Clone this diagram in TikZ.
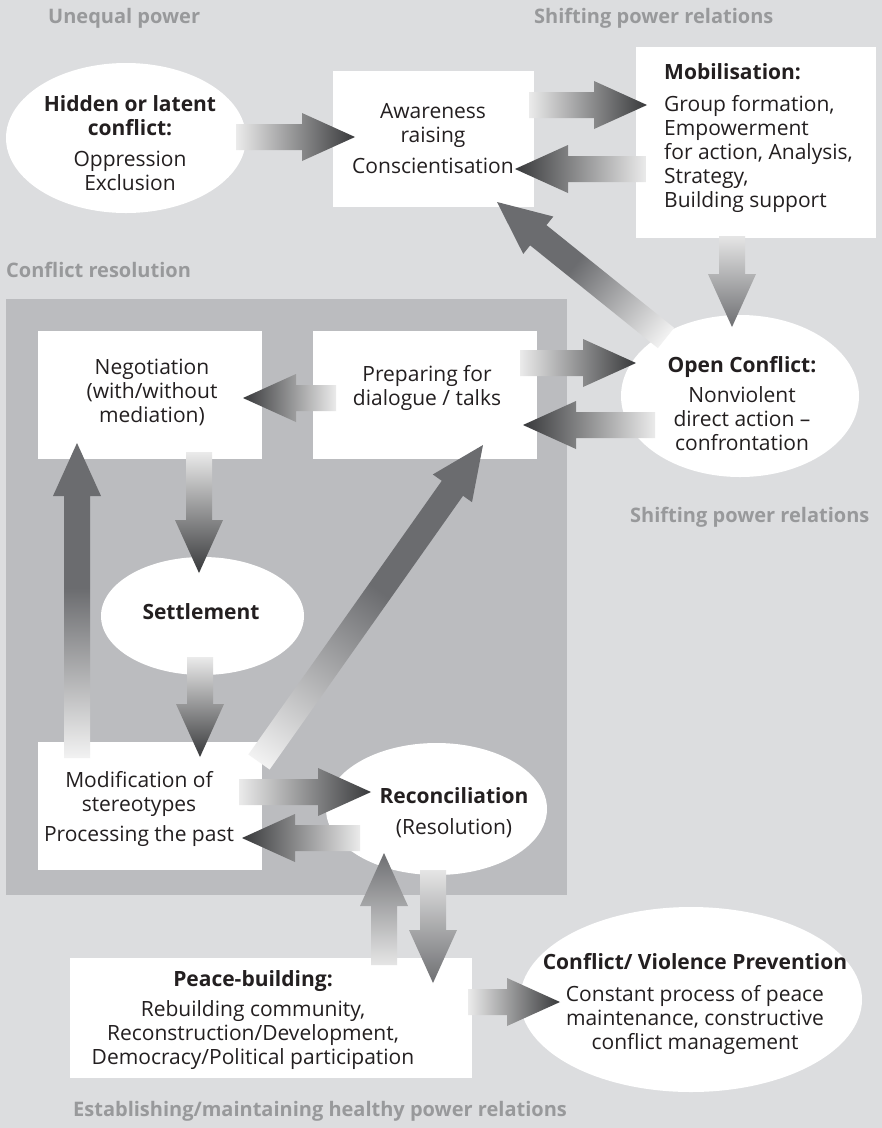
\documentclass[tikz,border=0pt]{standalone}
\usepackage{fontspec}
\setmainfont{Open Sans}
\usetikzlibrary{shapes.geometric,calc}
\definecolor{bg}{HTML}{DCDDDF}
\definecolor{inner}{HTML}{BBBCBF}
\definecolor{ttl}{HTML}{98999B}
\definecolor{ink}{HTML}{231F20}
\definecolor{adark}{HTML}{38393B}
\definecolor{amid}{HTML}{6B6C6F}
\definecolor{asoft}{HTML}{6E6F72}
\pgfdeclarehorizontalshading{fadedark}{100bp}{color(0bp)=(white!92!black); color(25bp)=(white!92!black); color(75bp)=(adark); color(100bp)=(adark)}
\pgfdeclarehorizontalshading{fademid}{100bp}{color(0bp)=(white!95!black); color(25bp)=(white!95!black); color(52bp)=(amid); color(75bp)=(amid); color(100bp)=(amid)}
\pgfdeclarehorizontalshading{fadesoft}{100bp}{color(0bp)=(white!90!black); color(25bp)=(white!90!black); color(75bp)=(asoft); color(100bp)=(asoft)}
\newcommand\blockarrow[3]{%
  \pgfpointdiff{\pgfpointanchor{#2}{center}}{\pgfpointanchor{#3}{center}}%
  \pgfgetlastxy{\BAdx}{\BAdy}%
  \pgfmathsetmacro\BAang{atan2(\BAdy,\BAdx)}%
  \pgfmathsetmacro\BAlen{veclen(\BAdx,\BAdy)}%
  \pgfmathsetmacro\BAbase{\BAlen-53}%
  \begin{scope}[transform canvas={shift={(#2)},rotate=\BAang}]
    \shade[shading=#1] (0pt,-13pt) -- (\BAbase pt,-13pt) -- (\BAbase pt,-24pt) -- (\BAlen pt,0pt)
      -- (\BAbase pt,24pt) -- (\BAbase pt,13pt) -- (0pt,13pt) -- cycle;
  \end{scope}%
}
\begin{document}
\begin{tikzpicture}[x=1pt,y=-1pt,
  whitebox/.style={rectangle,fill=white,inner sep=0pt},
  whiteoval/.style={ellipse,fill=white,inner sep=0pt},
  txt/.style={align=center,text=ink,font=\fontsize{21}{24}\selectfont,inner sep=0pt},
  ttlstyle/.style={anchor=west,text=ttl,font=\bfseries\fontsize{20}{22}\selectfont,inner sep=0pt}]
\fill[bg] (0,0) rectangle (882,1128);
\useasboundingbox (0,0) rectangle (882,1128);
\fill[inner] (6,299) rectangle (567,895);

% titles
\node[ttlstyle] (t1) at (48,18) {Unequal power};
\node[ttlstyle] (t2) at (534,18) {Shifting power relations};
\node[ttlstyle] (t3) at (6,270) {Conflict resolution};
\node[ttlstyle] (t4) at (630,517) {Shifting power relations};
\node[ttlstyle] (t5) at (73,1111) {Establishing/maintaining healthy power relations};

% shapes
\node[whiteoval,minimum width=240,minimum height=150] (hidden) at (126,138) {};
\node[whitebox,minimum width=201,minimum height=136] (aware) at (433.5,139) {};
\node[whitebox,minimum width=240,minimum height=191] (mob) at (756,142.5) {};
\node[whiteoval,minimum width=238,minimum height=162] (open) at (740,396) {};
\node[whitebox,minimum width=224,minimum height=128] (neg) at (150,395) {};
\node[whitebox,minimum width=224,minimum height=128] (prep) at (425,395) {};
\node[whiteoval,minimum width=203,minimum height=118] (settle) at (202.5,616) {};
\node[whitebox,minimum width=224,minimum height=128] (mod) at (150,806) {};
\node[whiteoval,minimum width=221,minimum height=132] (recon) at (436.5,809) {};
\node[whitebox,minimum width=402,minimum height=120] (peace) at (271,1018) {};
\node[whiteoval,minimum width=342,minimum height=185] (prev) at (691,999.5) {};

% texts
\node[txt] (hidden-t) at (130,143) {\textbf{Hidden or latent}\\\textbf{conflict:}\\[7pt]Oppression\\Exclusion};
\node[txt] (aware-t) at (433,139) {Awareness\\raising\\[7pt]Conscientisation};
\node[txt,align=left,anchor=west] (mob-t) at (664,138.5) {\textbf{Mobilisation:}\\[8pt]Group formation,\\Empowerment\\for action, Analysis,\\Strategy,\\Building support};
\node[txt] (neg-t) at (152,392) {Negotiation\\(with/without\\mediation)};
\node[txt] (prep-t) at (427,388) {Preparing for\\dialogue / talks};
\node[txt] (open-t) at (742,403.5) {\textbf{Open Conflict:}\\[6pt]Nonviolent\\direct action –\\confrontation};
\node[txt] (settle-t) at (201,612) {\textbf{Settlement}};
\node[txt] (mod-t) at (139,808.5) {Modification of\\stereotypes\\[6pt]Processing the past};
\node[txt] (recon-t) at (454,813) {\textbf{Reconciliation}\\[7pt](Resolution)};
\node[txt] (peace-t) at (253,1020) {\textbf{Peace-building:}\\[6pt]Rebuilding community,\\Reconstruction/Development,\\Democracy/Political participation};
\node[txt] (prev-t) at (695,1003.5) {\textbf{Conflict/ Violence Prevention}\\[8pt]Constant process of peace\\maintenance, constructive\\conflict management};

% arrow end points
\coordinate (a1s) at (236,137);  \coordinate (a1e) at (355,137);
\coordinate (a2s) at (529,105);  \coordinate (a2e) at (647,105);
\coordinate (a3s) at (646,169);  \coordinate (a3e) at (515,169);
\coordinate (a4s) at (732,236);  \coordinate (a4e) at (732,327);
\coordinate (a5s) at (666,338);  \coordinate (a5e) at (497,202);
\coordinate (a6s) at (336,398);  \coordinate (a6e) at (243,398);
\coordinate (a7s) at (520,363);  \coordinate (a7e) at (636,363);
\coordinate (a8s) at (655,425);  \coordinate (a8e) at (523,425);
\coordinate (a9s) at (199,452);  \coordinate (a9e) at (199,573);
\coordinate (a10s) at (200,657); \coordinate (a10e) at (200,757);
\coordinate (a11s) at (77,758);  \coordinate (a11e) at (77,443);
\coordinate (a12s) at (259,762); \coordinate (a12e) at (483,445);
\coordinate (a13s) at (239,792); \coordinate (a13e) at (371,792);
\coordinate (a14s) at (360,838); \coordinate (a14e) at (242,838);
\coordinate (a15s) at (384,965); \coordinate (a15e) at (384,853);
\coordinate (a16s) at (433,870); \coordinate (a16e) at (433,983);
\coordinate (a17s) at (468,1002); \coordinate (a17e) at (560,1002);

\blockarrow{fadedark}{a1s}{a1e}
\blockarrow{fadedark}{a2s}{a2e}
\blockarrow{fadedark}{a3s}{a3e}
\blockarrow{fadesoft}{a4s}{a4e}
\blockarrow{fademid}{a5s}{a5e}
\blockarrow{fadedark}{a6s}{a6e}
\blockarrow{fadedark}{a7s}{a7e}
\blockarrow{fadedark}{a8s}{a8e}
\blockarrow{fadedark}{a9s}{a9e}
\blockarrow{fadedark}{a10s}{a10e}
\blockarrow{fademid}{a11s}{a11e}
\blockarrow{fademid}{a12s}{a12e}
\blockarrow{fadedark}{a13s}{a13e}
\blockarrow{fadedark}{a14s}{a14e}
\blockarrow{fadesoft}{a15s}{a15e}
\blockarrow{fadesoft}{a16s}{a16e}
\blockarrow{fadedark}{a17s}{a17e}
\end{tikzpicture}
\end{document}
